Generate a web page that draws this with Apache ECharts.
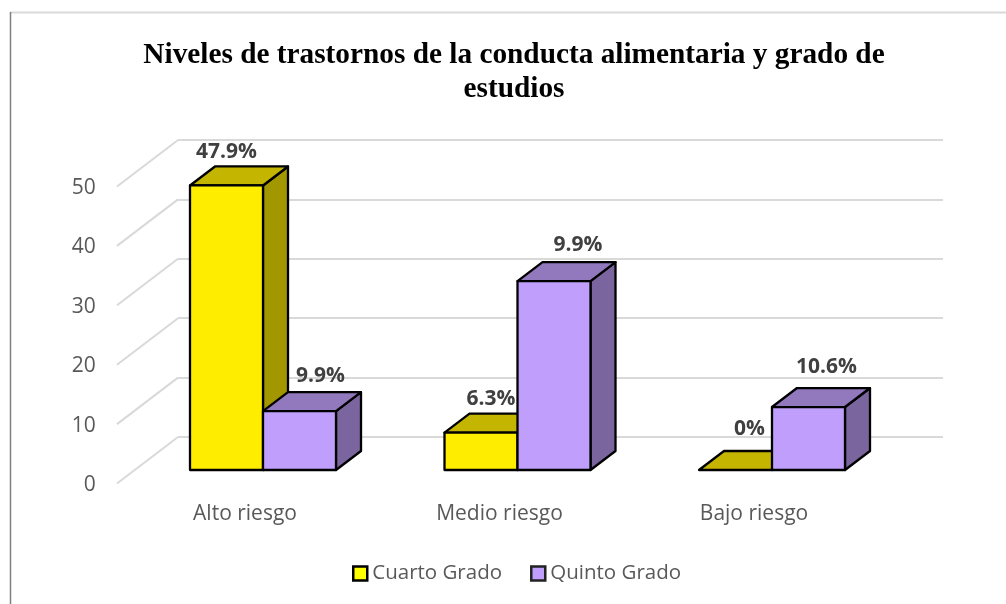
<!DOCTYPE html>
<html>
<head>
<meta charset="utf-8">
<style>html,body{margin:0;padding:0;background:#fff}#c{width:1006px;height:604px}</style>
<script src="https://cdn.jsdelivr.net/npm/echarts@6/dist/echarts.min.js"></script>
</head>
<body>
<div id="c"></div>
<script>
const titleText = 'Niveles de trastornos de la conducta alimentaria y grado de\nestudios';
const categories = ['Alto riesgo', 'Medio riesgo', 'Bajo riesgo'];
const legendNames = ['Cuarto Grado', 'Quinto Grado'];
const cuartoValues = [47.9, 6.3, 0];
const quintoValues = [9.9, 31.8, 10.6];
const cuartoLabels = ['47.9%', '6.3%', '0%'];
const quintoLabels = ['9.9%', '9.9%', '10.6%'];
const gridTicks = [0, 10, 20, 30, 40, 50];

// Drawing style, separate from the data
const FONT = '"Open Sans", sans-serif';
const WALL = {dx: 61, dy: -46.5};
const BOX = {dx: 25, dy: -19};
const BAR_SHARE = 73 / 254.5;
const cuartoOffsets = [[0, -14], [10, -15], [14, -22]];
const quintoOffsets = [[21, -16], [24, -17], [18, -21]];
const cuartoColors = {front: '#FFED00', top: '#C4B600', side: '#A39700'};
const quintoColors = {front: '#BF9FFB', top: '#9278BC', side: '#7A659E'};

function barRenderer(side, colors, labels, offsets) {
  return function (params, api) {
    const i = api.value(0);
    const base = api.coord([i, 0]);
    const top = api.coord([i, api.value(1)]);
    const w = api.size([1, 0])[0] * BAR_SHARE;
    const x0 = base[0] + (side === 0 ? -w : 0);
    const x1 = x0 + w;
    const y0 = base[1];
    const y1 = top[1];
    const d = BOX;
    const line = {stroke: '#000', lineWidth: 2.3, lineJoin: 'round'};
    const children = [];
    if (y0 - y1 > 0.5) {
      children.push({type: 'polygon', shape: {points: [[x1, y0], [x1 + d.dx, y0 + d.dy], [x1 + d.dx, y1 + d.dy], [x1, y1]]},
        style: Object.assign({fill: colors.side}, line)});
    }
    children.push({type: 'polygon', shape: {points: [[x0, y1], [x0 + d.dx, y1 + d.dy], [x1 + d.dx, y1 + d.dy], [x1, y1]]},
      style: Object.assign({fill: colors.top}, line)});
    if (y0 - y1 > 0.5) {
      children.push({type: 'rect', shape: {x: x0, y: y1, width: w, height: y0 - y1},
        style: Object.assign({fill: colors.front}, line)});
    }
    children.push({type: 'text', z2: 100, style: {
      text: labels[i], x: (x0 + x1) / 2 + offsets[i][0], y: y1 + d.dy + offsets[i][1],
      align: 'center', verticalAlign: 'middle', fill: '#404040',
      font: 'bold 21px ' + FONT}});
    return {type: 'group', children: children};
  };
}

const chart = echarts.init(document.getElementById('c'), null, {renderer: 'canvas'});
chart.setOption({
  animation: false,
  backgroundColor: '#fff',
  title: {
    text: titleText, left: 509, top: 33, textAlign: 'center',
    textStyle: {fontFamily: '"Liberation Serif", serif', fontWeight: 'bold', fontSize: 29.3, lineHeight: 34, color: '#000'}
  },
  legend: {
    left: 347, top: 558, itemWidth: 14, itemHeight: 14, itemGap: 28, selectedMode: false,
    textStyle: {fontFamily: FONT, fontSize: 20.5, color: '#595959'},
    data: [
      {name: legendNames[0], icon: 'rect', itemStyle: {color: '#FFFF00', borderColor: '#000', borderWidth: 2.5}},
      {name: legendNames[1], icon: 'rect', itemStyle: {color: '#BF9FFB', borderColor: '#222', borderWidth: 2.5}}
    ]
  },
  graphic: [
    {type: 'line', shape: {x1: 10, y1: 12.5, x2: 1006, y2: 12.5}, style: {stroke: '#D9D9D9', lineWidth: 2}},
    {type: 'line', shape: {x1: 10.5, y1: 12, x2: 10.5, y2: 604}, style: {stroke: '#7F7F7F', lineWidth: 1.5}}
  ],
  grid: [
    {left: 178, top: 140, width: 765, height: 297},   // back wall
    {left: 135.75, top: 173, width: 763.5, height: 297}, // bar plane
    {left: 117.75, top: 188, width: 763.5, height: 297}  // front labels plane
  ],
  xAxis: [
    {gridIndex: 0, type: 'value', min: 0, max: 1, show: false},
    {gridIndex: 1, type: 'category', data: categories, show: false},
    {gridIndex: 2, type: 'category', data: categories,
      axisLine: {show: false}, axisTick: {show: false},
      axisLabel: {margin: 19, fontFamily: FONT, fontSize: 21, color: '#595959'}}
  ],
  yAxis: [
    {gridIndex: 0, type: 'value', min: 0, max: 50, interval: 10,
      axisLine: {show: false}, axisTick: {show: false}, axisLabel: {show: false},
      splitLine: {show: true, lineStyle: {color: '#D9D9D9', width: 2}}},
    {gridIndex: 1, type: 'value', min: 0, max: 50, interval: 10, show: false, splitLine: {show: false}},
    {gridIndex: 2, type: 'value', min: 0, max: 50, interval: 10,
      axisLine: {show: false}, axisTick: {show: false}, splitLine: {show: false},
      axisLabel: {margin: 22, fontFamily: FONT, fontSize: 21, color: '#595959'}}
  ],
  series: [
    {
      type: 'custom', name: 'walls', xAxisIndex: 0, yAxisIndex: 0, silent: true, z: 1,
      data: gridTicks.map(v => [0, v]),
      renderItem: function (params, api) {
        const p = api.coord([0, api.value(1)]);
        return {type: 'line', shape: {x1: p[0], y1: p[1], x2: p[0] - WALL.dx, y2: p[1] - WALL.dy},
          style: {stroke: '#D9D9D9', lineWidth: 2, fill: null}};
      }
    },
    {
      type: 'custom', name: legendNames[0], xAxisIndex: 1, yAxisIndex: 1, silent: true, z: 3,
      data: cuartoValues.map((v, i) => [i, v]),
      renderItem: barRenderer(0, cuartoColors, cuartoLabels, cuartoOffsets)
    },
    {
      type: 'custom', name: legendNames[1], xAxisIndex: 1, yAxisIndex: 1, silent: true, z: 4,
      data: quintoValues.map((v, i) => [i, v]),
      renderItem: barRenderer(1, quintoColors, quintoLabels, quintoOffsets)
    }
  ]
});
</script>
</body>
</html>
